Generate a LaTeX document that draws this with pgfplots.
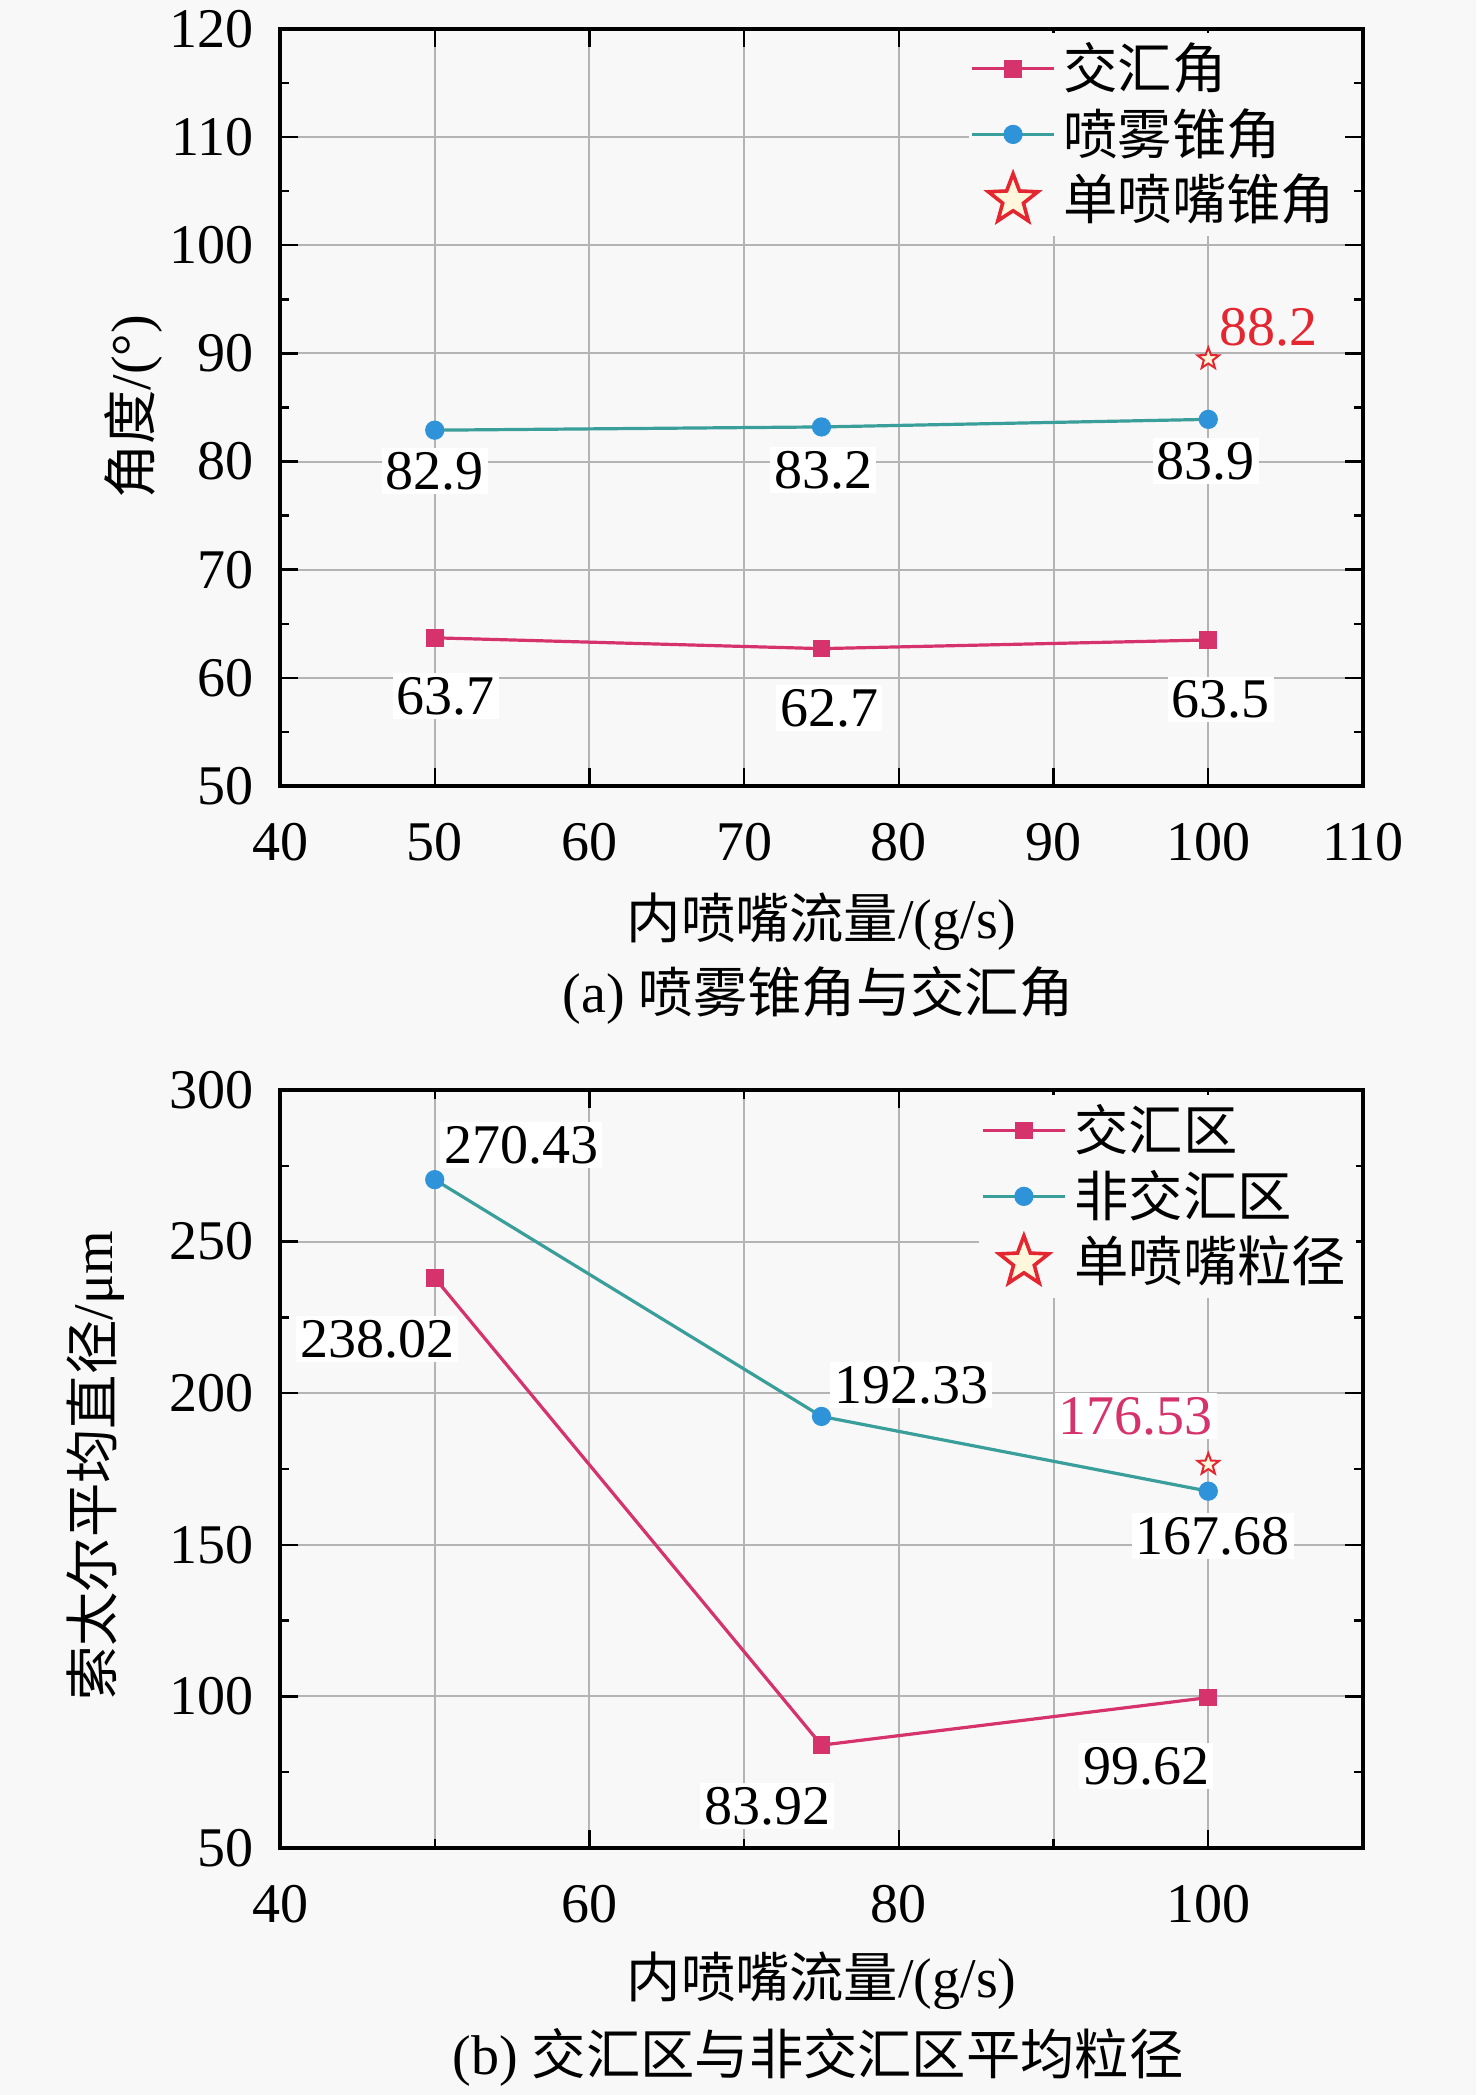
\documentclass[border=0pt]{standalone}
\usepackage{fontspec}
\setmainfont{Liberation Serif}
\newfontfamily\cjk{Noto Sans CJK SC}[Scale=0.97]
\usepackage{pgfplots}
\pgfplotsset{compat=1.18}
\usetikzlibrary{plotmarks}
\definecolor{cred}{HTML}{D6336C}
\definecolor{cblue}{HTML}{2E93D9}
\definecolor{cteal}{HTML}{3A9E9A}
\definecolor{gridc}{HTML}{B4B4B4}
\definecolor{starred}{HTML}{E3262F}
\definecolor{starfill}{HTML}{FFF6DC}
\definecolor{bg}{HTML}{F8F8F8}
\pgfdeclareplotmark{fstar}{%
  \pgfpathmoveto{\pgfqpointpolar{90}{\pgfplotmarksize}}%
  \pgfpathlineto{\pgfqpointpolar{126}{0.42\pgfplotmarksize}}%
  \pgfpathlineto{\pgfqpointpolar{162}{\pgfplotmarksize}}%
  \pgfpathlineto{\pgfqpointpolar{198}{0.42\pgfplotmarksize}}%
  \pgfpathlineto{\pgfqpointpolar{234}{\pgfplotmarksize}}%
  \pgfpathlineto{\pgfqpointpolar{270}{0.42\pgfplotmarksize}}%
  \pgfpathlineto{\pgfqpointpolar{306}{\pgfplotmarksize}}%
  \pgfpathlineto{\pgfqpointpolar{342}{0.42\pgfplotmarksize}}%
  \pgfpathlineto{\pgfqpointpolar{18}{\pgfplotmarksize}}%
  \pgfpathlineto{\pgfqpointpolar{54}{0.42\pgfplotmarksize}}%
  \pgfpathclose
  \pgfusepathqfillstroke
}
\tikzset{lab/.style={font=\fontsize{14}{14}\selectfont, fill=white, inner sep=1pt}}
\pgfplotsset{
 myaxis/.style={
  scale only axis, anchor=south west, width=270.75pt,
  axis line style={line width=1pt},
  tick style={black, line width=0.6pt},
  major tick length=4.5pt, minor tick length=2.2pt,
  tick label style={font=\fontsize{14}{14}\selectfont},
  /pgf/number format/assume math mode=true,
  yticklabel style={inner sep=0pt, xshift=-6.5pt},
  xticklabel style={inner sep=0pt, yshift=-9pt},
  grid style={gridc, line width=0.5pt},
  legend style={draw=none, fill=bg, font=\fontsize{14}{14}\selectfont, anchor=north west, row sep=-0.6pt, inner sep=0.5pt},
  legend cell align=left,
  legend image code/.code={\draw[mark repeat=2,mark phase=2] plot coordinates {(0cm,0cm) (0.36cm,0cm) (0.72cm,0cm)};},
  clip=false,
 },
}
\begin{document}
\begin{tikzpicture}
\path[use as bounding box, fill=bg] (0,0) rectangle (369pt,523.75pt);
\begin{axis}[myaxis, at={(70pt,327.25pt)}, height=189.25pt,
  xmin=40, xmax=110, ymin=50, ymax=120,
  xtick={40,50,...,110}, ytick={50,60,...,120},
  minor y tick num=1, xmajorgrids, ymajorgrids,
  legend style={at={(0.635,0.996)}}]
\addplot[cred, line width=0.8pt, mark=square*, mark size=1.8pt, mark options={fill=cred, draw=cred}] coordinates {(50,63.7) (75,62.7) (100,63.5)};
\addlegendentry{\cjk 交汇角}
\addplot[cteal, line width=0.8pt, mark=*, mark size=2pt, mark options={fill=cblue, draw=cblue}] coordinates {(50,82.9) (75,83.2) (100,83.9)};
\addlegendentry{\cjk 喷雾锥角}
\addplot[only marks, mark=fstar, mark size=2.8pt, mark options={draw=starred, fill=starfill, line width=0.5pt}, forget plot] coordinates {(100,89.5)};
\addlegendimage{only marks, mark=fstar, mark size=6.5pt, mark options={draw=starred, fill=starfill, line width=0.9pt}}
\addlegendentry{\cjk 单喷嘴锥角}
\node[lab] at (axis cs:50,79.1) {82.9};
\node[lab] at (axis cs:75.1,79.2) {83.2};
\node[lab] at (axis cs:99.85,80.05) {83.9};
\node[lab] at (axis cs:50.7,58.3) {63.7};
\node[lab] at (axis cs:75.5,57.2) {62.7};
\node[lab] at (axis cs:100.8,58.0) {63.5};
\node[lab, text=starred, fill=none] at (axis cs:103.9,92.4) {88.2};
\end{axis}
\begin{axis}[myaxis, at={(70pt,61.75pt)}, height=189.5pt,
  xmin=40, xmax=110, ymin=50, ymax=300,
  xtick={40,60,80,100}, ytick={50,100,...,300},
  minor x tick num=1, minor y tick num=1,
  xmajorgrids, xminorgrids, ymajorgrids,
  minor x grid style={gridc, line width=0.5pt},
  legend style={at={(0.645,0.995)}}]
\addplot[cred, line width=0.8pt, mark=square*, mark size=1.8pt, mark options={fill=cred, draw=cred}] coordinates {(50,238.02) (75,83.92) (100,99.62)};
\addlegendentry{\cjk 交汇区}
\addplot[cteal, line width=0.8pt, mark=*, mark size=2pt, mark options={fill=cblue, draw=cblue}] coordinates {(50,270.43) (75,192.33) (100,167.68)};
\addlegendentry{\cjk 非交汇区}
\addplot[only marks, mark=fstar, mark size=2.8pt, mark options={draw=starred, fill=starfill, line width=0.5pt}, forget plot] coordinates {(100,176.53)};
\addlegendimage{only marks, mark=fstar, mark size=6.5pt, mark options={draw=starred, fill=starfill, line width=0.9pt}}
\addlegendentry{\cjk 单喷嘴粒径}
\node[lab] at (axis cs:55.6,281.9) {270.43};
\node[lab] at (axis cs:46.3,217.9) {238.02};
\node[lab] at (axis cs:80.8,202.7) {192.33};
\node[lab, text=cred] at (axis cs:95.3,192.5) {176.53};
\node[lab] at (axis cs:100.3,152.9) {167.68};
\node[lab] at (axis cs:71.5,63.9) {83.92};
\node[lab] at (axis cs:96.0,77.0) {99.62};
\end{axis}
\node[font=\fontsize{14}{14}\selectfont] at (205.4pt,293.25pt) {{\cjk 内喷嘴流量}/(g/s)};
\node[font=\fontsize{14}{14}\selectfont] at (204.5pt,275pt) {(a) {\cjk 喷雾锥角与交汇角}};
\node[font=\fontsize{14}{14}\selectfont, rotate=90] at (33.5pt,422pt) {{\cjk 角度}/(°)};
\node[font=\fontsize{14}{14}\selectfont] at (205.4pt,28.5pt) {{\cjk 内喷嘴流量}/(g/s)};
\node[font=\fontsize{14}{14}\selectfont] at (204.5pt,9.5pt) {(b) {\cjk 交汇区与非交汇区平均粒径}};
\node[font=\fontsize{14}{14}\selectfont, rotate=90] at (24pt,157.25pt) {{\cjk 索太尔平均直径}/μm};
\end{tikzpicture}
\end{document}
